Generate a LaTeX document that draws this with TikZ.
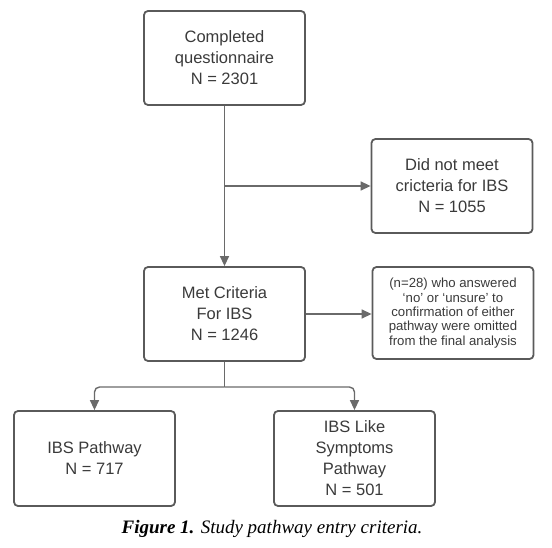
\documentclass[tikz,border=0pt]{standalone}
\usepackage{fontspec}
\setmainfont{Liberation Sans}
\newfontfamily\capfont{Liberation Serif}
\usepackage{xcolor}
\usetikzlibrary{arrows.meta}

\definecolor{boxline}{HTML}{5A5A5A}
\definecolor{arrline}{HTML}{6A6A6A}
\definecolor{txt}{HTML}{3A3A3A}

\begin{document}
\begin{tikzpicture}[x=1pt, y=-1pt,
    every node/.style={text=txt, font=\fontsize{16.5}{21}\selectfont},
    flowbox/.style={draw=boxline, line width=1.8pt, rounded corners=4pt, rectangle,
        minimum width=161pt, minimum height=94pt, align=center, inner sep=2pt},
    notebox/.style={flowbox, font=\fontsize{13.2}{14.3}\selectfont},
    flow/.style={draw=arrline, line width=1.4pt, -{Triangle[length=10pt,width=9pt]}},
    plain/.style={draw=arrline, line width=1.4pt}]
    \useasboundingbox (0,0) rectangle (552,548);

    % Questionnaire
    \node[flowbox] (quest) at (224.5,58) {Completed\\questionnaire\\N = 2301};

    % Excluded
    \node[flowbox] (notmet) at (452,186) {Did not meet\\cricteria for IBS\\N = 1055};

    % Met criteria
    \node[flowbox] (met) at (224.5,314) {Met Criteria\\For IBS\\N = 1246};
    \node[notebox, minimum height=92pt] (omit) at (453,313) {(n=28) who answered\\‘no’ or ‘unsure’ to\\confirmation of either\\pathway were omitted\\from the final analysis};

    % Pathways
    \node[flowbox, minimum height=95pt] (ibs) at (94.5,458.5) {IBS Pathway\\N = 717};
    \node[flowbox, minimum height=95pt] (like) at (354.5,458.5) {IBS Like\\Symptoms\\Pathway\\N = 501};

    % Caption
    \node[font=\capfont\fontsize{19}{22}\selectfont, text=black] (cap) at (272,529)
        {\textbf{\textit{Figure 1.}} \textit{Study pathway entry criteria.}};

    % Split points
    \coordinate (split1) at (224.5,186);
    \coordinate (split2) at (224.5,387);

    % Arrows
    \draw[flow] (quest) -- (met);
    \draw[flow] (split1) -- (notmet.west);
    \draw[flow] (met) -- (omit.west |- met);
    \draw[plain] (met) -- (split2);
    \draw[flow, rounded corners=5pt] (split2) -| (ibs.north);
    \draw[flow, rounded corners=5pt] (split2) -| (like.north);
\end{tikzpicture}
\end{document}
